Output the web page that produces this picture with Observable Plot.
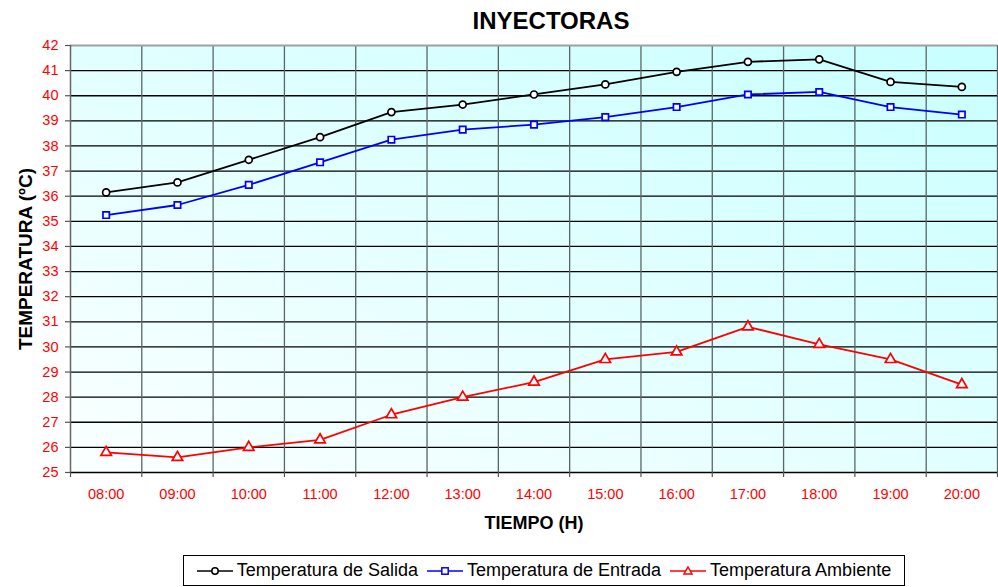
<!DOCTYPE html>
<html>
<head>
<meta charset="utf-8">
<script src="https://cdn.jsdelivr.net/npm/d3@7"></script>
<script src="https://cdn.jsdelivr.net/npm/@observablehq/plot@0.6"></script>
<style>
  html, body { margin: 0; padding: 0; background: #fff; }
  #wrap { position: relative; width: 998px; height: 587px; font-family: "Liberation Sans", Arial, sans-serif; }
  #legend { position: absolute; left: 183px; top: 555px; width: 722px; height: 31px; box-sizing: border-box;
            border: 1px solid #000; display: flex; align-items: center; justify-content: center;
            font-size: 18px; color: #000; gap: 9px; }
  #legend .item { display: flex; align-items: center; gap: 4px; white-space: nowrap; }
</style>
</head>
<body>
<div id="wrap"></div>
<script>
const hours = ["08:00","09:00","10:00","11:00","12:00","13:00","14:00","15:00","16:00","17:00","18:00","19:00","20:00"];
const salida   = [36.15, 36.55, 37.45, 38.35, 39.35, 39.65, 40.05, 40.45, 40.95, 41.35, 41.45, 40.55, 40.35];
const entrada  = [35.25, 35.65, 36.45, 37.35, 38.25, 38.65, 38.85, 39.15, 39.55, 40.05, 40.15, 39.55, 39.25];
const ambiente = [25.8, 25.6, 26.0, 26.3, 27.3, 28.0, 28.6, 29.5, 29.8, 30.8, 30.1, 29.5, 28.5];
const yTicks = d3.range(25, 43);

const seriesDefs = [
  {name: "Temperatura de Salida",  values: salida,   color: "#000000", symbol: "circle",   r: 3.5},
  {name: "Temperatura de Entrada", values: entrada,  color: "#0000ff", symbol: "square",   r: 3.6},
  {name: "Temperatura Ambiente",   values: ambiente, color: "#ff0000", symbol: "triangle", r: 3.9}
];
const rows = seriesDefs.flatMap(s => s.values.map((v, i) => ({series: s.name, i: i + 0.5, v})));
const n = hours.length;
const centers = d3.range(n).map(i => i + 0.5);

const marks = [
  Plot.frame({fill: "url(#bgGrad)"}),
  Plot.ruleY(yTicks.slice(0, -1), {stroke: "#000", strokeWidth: 1.3}),
  Plot.ruleX(d3.range(1, n + 1), {stroke: "#5a6666", strokeWidth: 1.3}),
  Plot.ruleY([42], {stroke: "#a0a0a0", strokeWidth: 2}),
  Plot.ruleX([0], {stroke: "#666", strokeWidth: 1.5}),
  // outer tick marks
  Plot.ruleY(yTicks, {x1: 0, x2: -0.07, stroke: "#555", strokeWidth: 1.2}),
  Plot.ruleX(d3.range(0, n + 1), {y1: 25, y2: 24.8, stroke: "#555", strokeWidth: 1.2}),
  Plot.text(["TEMPERATURA (ºC)"], {frameAnchor: "left", textAnchor: "middle", lineAnchor: "middle", rotate: -90, dx: -45, fontWeight: "bold", fontSize: 19, fill: "#000"}),
  Plot.text(["TIEMPO (H)"], {frameAnchor: "bottom", lineAnchor: "middle", dy: 51, fontWeight: "bold", fontSize: 18, fill: "#000"}),
  Plot.text(["INYECTORAS"], {frameAnchor: "top", lineAnchor: "middle", dy: -24, dx: 17, fontWeight: "bold", fontSize: 24, fill: "#000"})
];
for (const s of seriesDefs) {
  const data = rows.filter(d => d.series === s.name);
  marks.push(Plot.line(data, {x: "i", y: "v", stroke: s.color, strokeWidth: 1.8}));
  marks.push(Plot.dot(data, {x: "i", y: "v", symbol: s.symbol, r: s.r, stroke: s.color, strokeWidth: 1.7, fill: "#fff"}));
}

const chart = Plot.plot({
  width: 998,
  height: 550,
  marginLeft: 70,
  marginRight: 1,
  marginTop: 45,
  marginBottom: 78,
  style: {fontFamily: '"Liberation Sans", Arial, sans-serif', fontSize: "14.5px", background: "transparent", overflow: "visible"},
  x: {type: "linear", domain: [0, n], ticks: centers, tickFormat: v => hours[Math.floor(v)], tickSize: 0, tickPadding: 16, label: null, line: false},
  y: {domain: [25, 42], ticks: yTicks, tickSize: 0, tickPadding: 12, label: null, line: false},
  marks
});

// tick label colours
d3.select(chart).selectAll('g[aria-label="x-axis"], g[aria-label="y-axis"], g[aria-label="x-axis tick label"], g[aria-label="y-axis tick label"]').attr("fill", "#ff0000");

const defs = d3.select(chart).insert("defs", ":first-child");
const grad = defs.append("linearGradient").attr("id", "bgGrad").attr("x1", 0).attr("y1", 1).attr("x2", 1).attr("y2", 0);
grad.append("stop").attr("offset", "0%").attr("stop-color", "#fbffff");
grad.append("stop").attr("offset", "100%").attr("stop-color", "#c8ffff");

const wrap = document.getElementById("wrap");
wrap.appendChild(chart);

// Legend
const legend = document.createElement("div");
legend.id = "legend";
const symPath = {
  circle: '<circle cx="18" cy="7" r="3.2" fill="#fff" stroke="C" stroke-width="1.5"/>',
  square: '<rect x="14.8" y="3.8" width="6.4" height="6.4" fill="#fff" stroke="C" stroke-width="1.5"/>',
  triangle: '<path d="M18,3 L22,10 L14,10 Z" fill="#fff" stroke="C" stroke-width="1.5"/>'
};
for (const s of seriesDefs) {
  const item = document.createElement("div");
  item.className = "item";
  item.innerHTML = `<svg width="36" height="14"><line x1="0" x2="36" y1="7" y2="7" stroke="${s.color}" stroke-width="1.6"/>${symPath[s.symbol].replace(/C/, s.color)}</svg><span>${s.name}</span>`;
  legend.appendChild(item);
}
wrap.appendChild(legend);
</script>
</body>
</html>
